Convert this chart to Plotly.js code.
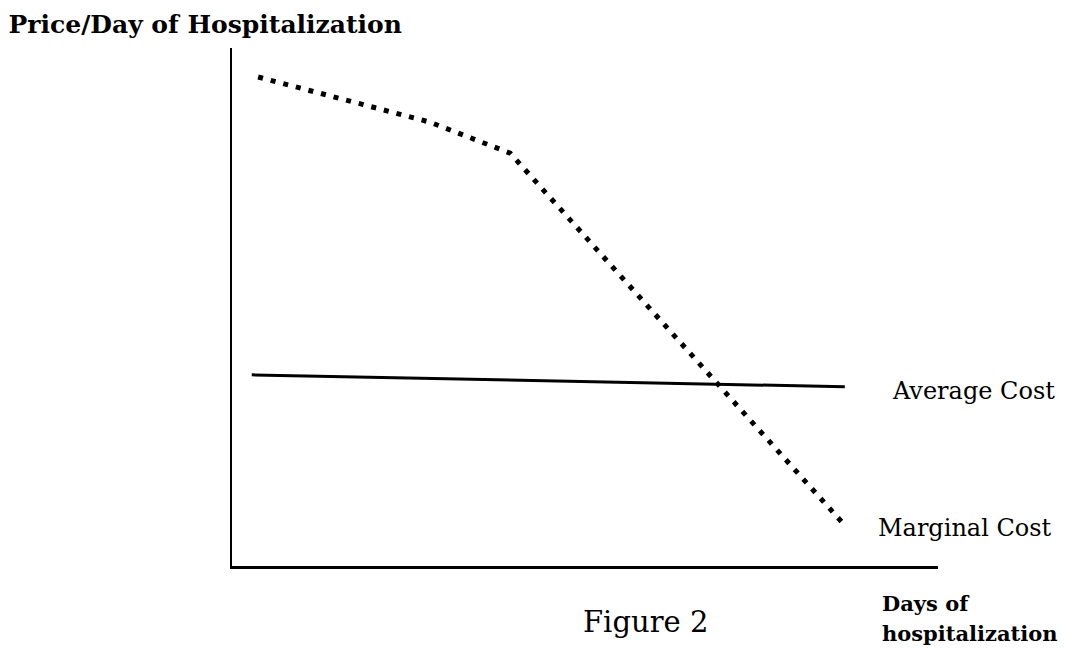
<!DOCTYPE html>
<html>
<head>
<meta charset="utf-8">
<script src="https://cdn.plot.ly/plotly-3.0.1.min.js"></script>
<style>html,body{margin:0;padding:0;background:#fff;}#chart{width:1067px;height:655px;}</style>
</head>
<body>
<div id="chart"></div>
<script>
// Conceptual sketch: values in a 0-100 coordinate space
const marginalX = [3.7, 28.0, 39.4, 86.5];
const marginalY = [94.4, 85.7, 79.7, 8.3];
const averageX = [2.8, 86.8];
const averageY = [36.9, 34.6];
const seriesNames = ["Marginal Cost", "Average Cost"];
const titleText = "Price/Day of Hospitalization";
const xTitleLines = ["Days of", "hospitalization"];
const captionText = "Figure 2";

const traces = [
  {
    x: marginalX, y: marginalY, type: "scatter", mode: "lines", name: seriesNames[0],
    line: {color: "#000", width: 5, dash: "5px,8px"}, hoverinfo: "skip"
  },
  {
    x: averageX, y: averageY, type: "scatter", mode: "lines", name: seriesNames[1],
    line: {color: "#000", width: 3}, hoverinfo: "skip"
  }
];

const serif = "DejaVu Serif, Liberation Serif, serif";

const layout = {
  width: 1067, height: 655,
  margin: {l: 232, r: 129, t: 48, b: 89},
  paper_bgcolor: "#fff", plot_bgcolor: "#fff",
  showlegend: false,
  title: {
    text: "<b>" + titleText + "</b>",
    x: 0.008, xanchor: "left", xref: "container",
    y: 0.963, yanchor: "middle", yref: "container",
    font: {family: serif, size: 25, color: "#000"}
  },
  xaxis: {
    range: [0, 100], showgrid: false, zeroline: false, showticklabels: false, ticks: "",
    showline: true, linecolor: "#000", linewidth: 3, fixedrange: true
  },
  yaxis: {
    range: [0, 100], showgrid: false, zeroline: false, showticklabels: false, ticks: "",
    showline: true, linecolor: "#000", linewidth: 2, fixedrange: true
  },
  annotations: [
    {text: seriesNames[1], xref: "paper", yref: "paper", x: 0.932, y: 0.338,
     xanchor: "left", yanchor: "middle", showarrow: false,
     font: {family: serif, size: 24, color: "#000"}},
    {text: seriesNames[0], xref: "paper", yref: "paper", x: 0.912, y: 0.073,
     xanchor: "left", yanchor: "middle", showarrow: false,
     font: {family: serif, size: 24, color: "#000"}},
    {text: captionText, xref: "paper", yref: "paper", x: 0.585, y: -0.108,
     xanchor: "center", yanchor: "middle", showarrow: false,
     font: {family: serif, size: 29, color: "#000"}},
    {text: "<b>" + xTitleLines[0] + "</b>", xref: "paper", yref: "paper", x: 0.918, y: -0.073,
     xanchor: "left", yanchor: "middle", align: "left", showarrow: false,
     font: {family: serif, size: 21, color: "#000"}},
    {text: "<b>" + xTitleLines[1] + "</b>", xref: "paper", yref: "paper", x: 0.918, y: -0.131,
     xanchor: "left", yanchor: "middle", align: "left", showarrow: false,
     font: {family: serif, size: 21, color: "#000"}}
  ]
};

Plotly.newPlot("chart", traces, layout, {displayModeBar: false, staticPlot: true});
</script>
</body>
</html>
